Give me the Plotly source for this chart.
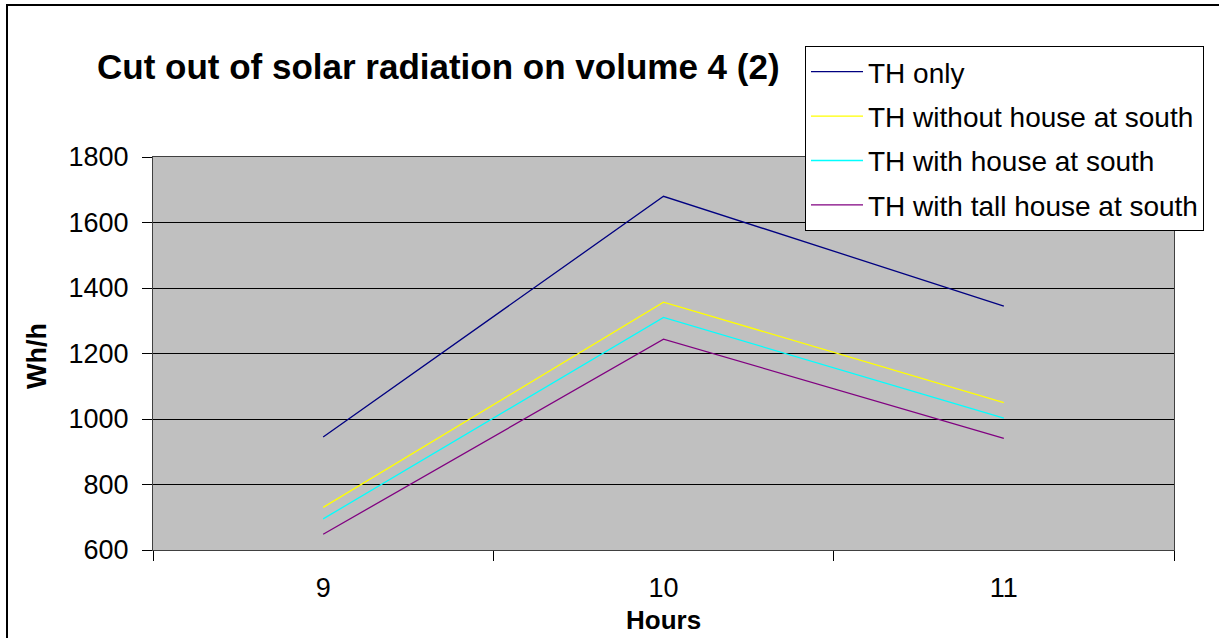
import plotly.graph_objects as go

hours = ["9", "10", "11"]
series_names = ["TH only", "TH without house at south", "TH with house at south", "TH with tall house at south"]
th_only = [945, 1680, 1345]
th_without_house = [730, 1357, 1050]
th_with_house = [695, 1310, 1003]
th_with_tall_house = [648, 1244, 941]
colors = ["#000080", "#FFFF00", "#00FFFF", "#800080"]

W, H = 1219, 638
L, R, T, B = 153, 1174, 157, 550
pw, ph = R - L, B - T

def px(x):
    return (x - L) / pw

def py(y):
    return (B - y) / ph

fig = go.Figure()
for i, (name, vals) in enumerate(zip(series_names, [th_only, th_without_house, th_with_house, th_with_tall_house])):
    fig.add_trace(go.Scatter(x=hours, y=vals, mode="lines", name=name,
                             line=dict(color=colors[i], width=1.3),
                             legendgroup="g%d" % i))

font = "Liberation Sans, Arial, sans-serif"

fig.update_layout(
    width=W, height=H,
    margin=dict(l=L, r=W - R, t=T, b=H - B, pad=0),
    paper_bgcolor="white",
    plot_bgcolor="#C0C0C0",
    font=dict(family=font, size=27, color="black"),
    showlegend=True,
    legend=dict(x=px(805), y=py(46), xanchor="left", yanchor="top",
                bordercolor="black", borderwidth=1, bgcolor="white",
                font=dict(size=28, family=font), tracegroupgap=5,
                itemwidth=52, traceorder="grouped"),
    xaxis=dict(type="category", tickson="boundaries", ticks="outside", ticklen=10,
               tickcolor="black", showgrid=False, showline=True, linecolor="#404040",
               linewidth=1, mirror=True, tickfont=dict(size=27), zeroline=False,
               range=[-0.5, 2.5], ticklabelstandoff=14),
    yaxis=dict(range=[600, 1800], dtick=200, tick0=600, ticks="outside", ticklen=10,
               tickcolor="black", showgrid=True, gridcolor="black", gridwidth=1,
               showline=True, linecolor="#404040", linewidth=1, mirror=True,
               tickfont=dict(size=27), zeroline=False, ticklabelstandoff=8),
    shapes=[dict(type="rect", xref="paper", yref="paper",
                 x0=px(7), x1=px(1400), y0=py(5), y1=py(900),
                 line=dict(color="black", width=2), fillcolor="rgba(0,0,0,0)", layer="above")],
    annotations=[
        dict(text="<b>Cut out of solar radiation on volume 4 (2)</b>", xref="paper", yref="paper",
             x=px(438), y=py(66), xanchor="center", yanchor="middle", showarrow=False,
             font=dict(size=35, family=font)),
        dict(text="<b>Hours</b>", xref="paper", yref="paper",
             x=px(663), y=py(620), xanchor="center", yanchor="middle", showarrow=False,
             font=dict(size=26, family=font)),
        dict(text="<b>Wh/h</b>", xref="paper", yref="paper", textangle=-90,
             x=px(37), y=py(356), xanchor="center", yanchor="middle", showarrow=False,
             font=dict(size=27, family=font)),
    ],
)

fig.write_html("out.html")
